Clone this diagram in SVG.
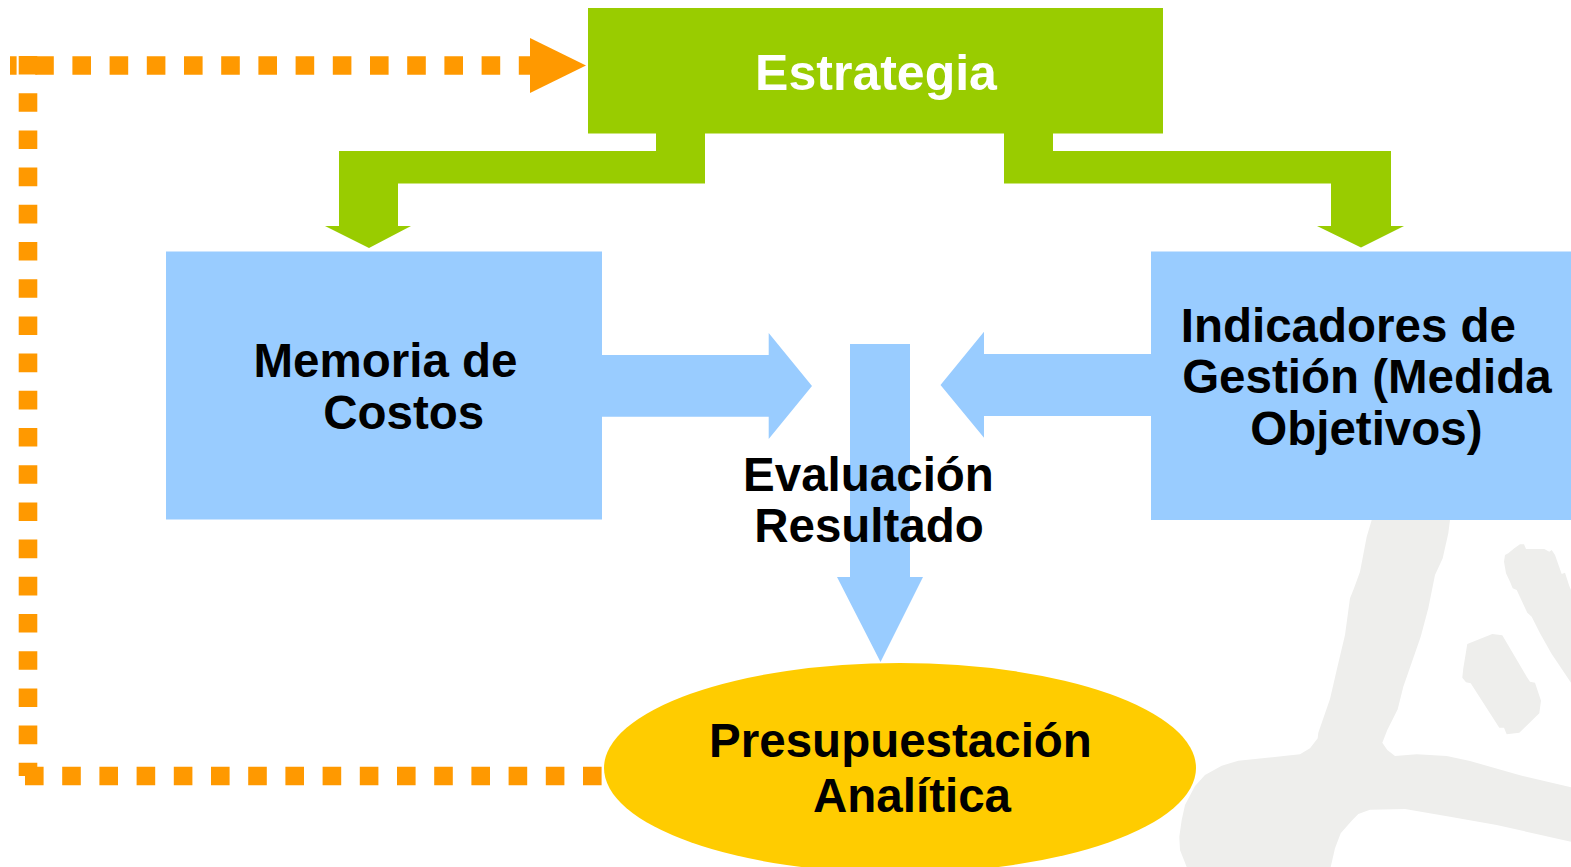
<svg xmlns="http://www.w3.org/2000/svg" width="1571" height="867" viewBox="0 0 1571 867">
<style>
.lbl{font-family:"Liberation Sans",Arial,sans-serif;font-weight:bold;font-size:47.5px;fill:#000;text-anchor:middle}
.wh{fill:#fff;font-size:50px}
.green{fill:#99CC00}
.blue{fill:#99CCFF}
.logo{fill:#EEEEEC}
.dash{fill:none;stroke:#FF9900;stroke-width:18.6;stroke-dasharray:18.6 18.6}
</style>
<rect width="1571" height="867" fill="#fff"/>
<g id="logo">
<polygon class="logo" points="1372,252 1450,252 1450,520 1448.3,533.3 1442.7,558.3 1435,575 1428.3,608.3 1420.7,636.7 1403.3,686.7 1397.7,709.3 1387.3,730 1382.3,742.7 1387.3,750 1395,756 1416.7,754.3 1446.7,756 1470,761 1520,775.3 1571,787.3 1571,841.7 1496.7,825 1450,816.7 1405,809 1370,809.7 1358.3,814 1351.7,820.7 1340.7,833.3 1335,848.3 1330.7,867 1186.7,867 1180,850 1179.3,836.7 1181.7,820 1185,805 1195,786 1205,775 1221.7,765.7 1238.3,760.7 1300,754.3 1310,748.3 1317.7,738.3 1318.3,732.7 1330,699 1336.7,670 1345,635 1350,598.3 1354,588.3 1360,571.7 1366.7,536.7 1371.7,520"/>
<polygon class="logo" points="1467.3,644 1492.3,634 1502.3,635.3 1526.7,676.7 1530,681.7 1535,682.7 1541,700.7 1539.3,713.3 1519.3,732.7 1506.7,734.3 1504,727.7 1499.3,727.7 1470.7,683.3 1466,682.3 1462.3,677.7 1463.3,668.3"/>
<polygon class="logo" points="1505,555 1508.3,553.3 1514.3,548.3 1520,544.3 1524,544.3 1526,549 1544.3,549 1549.3,551.7 1551.7,550 1555,555 1561.7,574 1565,572.7 1569.3,586 1571,590 1571,682.7 1551.7,654 1540,633.3 1531.7,616.7 1527.3,612.7 1516.7,590 1512.7,588.3 1510,581.7 1506,573.3 1504,561.7"/>
</g>
<g id="connectors">
<polygon id="green-left" class="green" points="656,133 705,133 705,183.5 398,183.5 398,226 411,226 369,248 325,226 339,226 339,151 656,151"/>
<polygon id="green-right" class="green" points="1004,133 1053,133 1053,151 1391,151 1391,226 1404,226 1361,247.5 1317,226 1331,226 1331,183.5 1004,183.5"/>
<polygon id="blue-left" class="blue" points="601,355 768.7,355 768.7,333 812,386 768.7,439 768.7,416.7 601,416.7"/>
<polygon id="blue-right" class="blue" points="1152,354 984,354 984,331.7 940.5,385 984,437.7 984,416 1152,416"/>
<polygon id="blue-down" class="blue" points="850,344 910,344 910,577 923,577 880.5,662 837,577 850,577"/>
<g id="feedback">
<path class="dash" d="M25 776 H604.5"/>
<path class="dash" d="M28 56 V776"/>
<path class="dash" d="M10 65.5 H530" style="stroke-dashoffset:12"/>
<polygon fill="#FF9900" points="530,38 586,65.5 530,93"/>
</g>
</g>
<g id="estrategia">
<rect class="green" x="588" y="8" width="575" height="125.5"/>
<text class="lbl wh" x="876" y="90">Estrategia</text>
</g>
<g id="memoria">
<rect class="blue" x="166" y="251.5" width="436" height="268"/>
<text class="lbl" x="385.5" y="377.3">Memoria de</text>
<text class="lbl" x="403.8" y="429.3">Costos</text>
</g>
<g id="indicadores">
<rect class="blue" x="1151" y="251.5" width="420" height="268.5"/>
<text class="lbl" x="1348.4" y="341.7">Indicadores de</text>
<text class="lbl" x="1366.9" y="393.3">Gestión (Medida</text>
<text class="lbl" x="1366.4" y="445">Objetivos)</text>
</g>
<g id="evaluacion">
<text class="lbl" x="868.5" y="490.7">Evaluación</text>
<text class="lbl" x="869" y="542">Resultado</text>
</g>
<g id="presupuestacion">
<ellipse cx="900" cy="768" rx="296" ry="105" fill="#FFCC00"/>
<text class="lbl" x="900.5" y="756.7">Presupuestación</text>
<text class="lbl" x="912" y="811.7">Analítica</text>
</g>
</svg>
